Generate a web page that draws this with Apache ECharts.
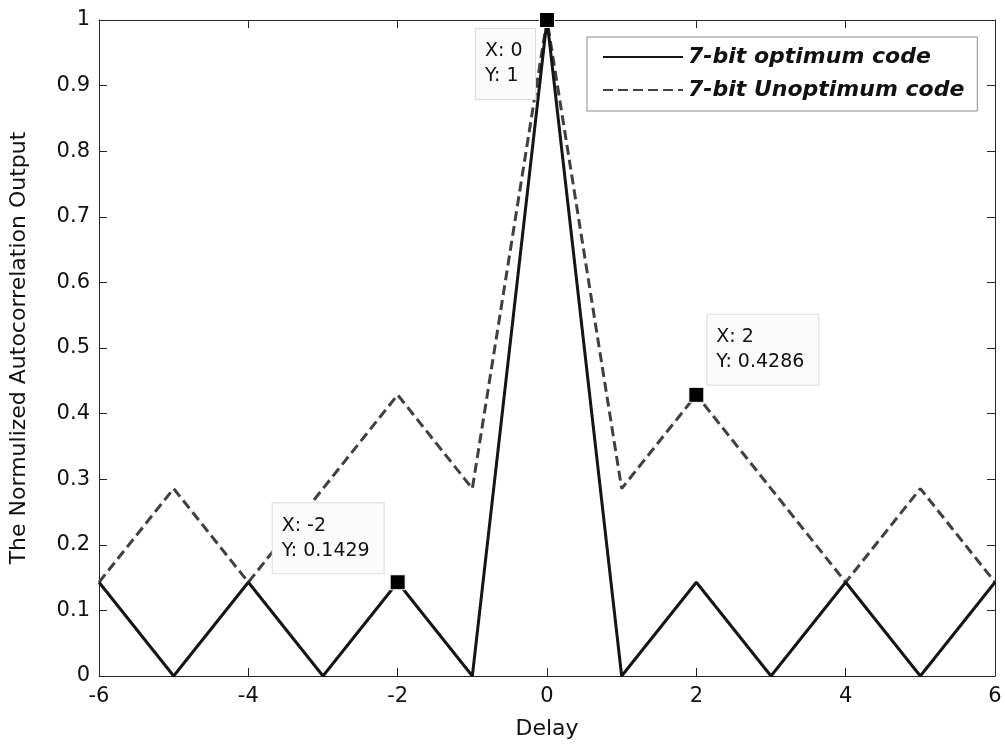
<!DOCTYPE html>
<html>
<head>
<meta charset="utf-8">
<script src="https://cdn.jsdelivr.net/npm/echarts@6/dist/echarts.min.js"></script>
<style>
  html, body { margin: 0; padding: 0; background: #fff; }
  #chart { width: 1005px; height: 745px; }
</style>
</head>
<body>
<div id="chart"></div>
<script>
'use strict';

const delays = [-6, -5, -4, -3, -2, -1, 0, 1, 2, 3, 4, 5, 6];
const optimum = [0.1429, 0, 0.1429, 0, 0.1429, 0, 1, 0, 0.1429, 0, 0.1429, 0, 0.1429];
const unoptimum = [0.1429, 0.2857, 0.1429, 0.2857, 0.4286, 0.2857, 1, 0.2857, 0.4286, 0.2857, 0.1429, 0.2857, 0.1429];
const tips = [[0, 1], [-2, 0.1429], [2, 0.4286]];
// where each data tip box sits relative to its marker (left edge, vertical centre)
const tipOffsets = [[-71, 44], [-125, -44], [11, -45]];
const tipWidths = [41, 93, 93];

const font = '"DejaVu Sans", Verdana, sans-serif';
const chart = echarts.init(document.getElementById('chart'));

const pairs = (ys) => delays.map((x, i) => [x, ys[i]]);

const axisBase = {
    type: 'value',
    axisLine: { show: true, onZero: false, lineStyle: { color: '#262626', width: 1 } },
    axisTick: { show: true, inside: true, length: 8, lineStyle: { color: '#262626' } },
    splitLine: { show: false },
};

chart.setOption({
    animation: false,
    textStyle: { fontFamily: font },
    grid: { left: 98, right: 10, top: 20, bottom: 68 },
    legend: {
        orient: 'vertical',
        left: 587,
        top: 37,
        padding: [9, 13, 10, 15],
        itemGap: 11,
        itemWidth: 80,
        itemHeight: 22,
        textGap: 10,
        borderColor: '#888',
        borderWidth: 1,
        backgroundColor: '#fff',
        itemStyle: { opacity: 0 },
        textStyle: { fontSize: 22, fontWeight: 'bold', fontStyle: 'italic', color: '#111', fontFamily: font },
        data: ['7-bit optimum code', '7-bit Unoptimum code'],
    },
    xAxis: [
        Object.assign({}, axisBase, {
            min: -6, max: 6, interval: 2,
            name: 'Delay', nameLocation: 'middle', nameGap: 42,
            nameTextStyle: { fontSize: 22, color: '#111' },
            axisLabel: { fontSize: 21, color: '#111', margin: 10 },
        }),
        Object.assign({}, axisBase, {
            position: 'top', min: -6, max: 6, interval: 2,
            axisLabel: { show: false },
        }),
    ],
    yAxis: [
        Object.assign({}, axisBase, {
            min: 0, max: 1, interval: 0.1,
            name: 'The Normulized Autocorrelation Output', nameLocation: 'middle', nameGap: 69,
            nameTextStyle: { fontSize: 22, color: '#111' },
            axisLabel: { fontSize: 21, color: '#111', margin: 9 },
        }),
        Object.assign({}, axisBase, {
            position: 'right', min: 0, max: 1, interval: 0.1,
            axisLabel: { show: false },
        }),
    ],
    series: [
        {
            name: '7-bit Unoptimum code',
            type: 'line',
            data: pairs(unoptimum),
            symbol: 'none',
            z: 2,
            lineStyle: { color: '#404040', width: 3, type: [10, 5] },
            itemStyle: { color: '#404040' },
        },
        {
            name: '7-bit optimum code',
            type: 'line',
            data: pairs(optimum),
            symbol: 'none',
            z: 3,
            lineStyle: { color: '#151515', width: 3 },
            itemStyle: { color: '#151515' },
        },
        {
            name: 'datatips',
            type: 'scatter',
            symbol: 'rect',
            symbolSize: 15,
            z: 5,
            itemStyle: { color: '#000', opacity: 1, borderColor: '#fff', borderWidth: 1 },
            emphasis: { disabled: true },
            data: tips.map((p, i) => ({
                value: p,
                label: {
                    show: true,
                    position: 'inside',
                    offset: tipOffsets[i],
                    align: 'left',
                    verticalAlign: 'middle',
                    width: tipWidths[i],
                    formatter: 'X: ' + p[0] + '\nY: ' + p[1],
                    fontSize: 19,
                    lineHeight: 25,
                    color: '#111',
                    backgroundColor: '#fbfbfb',
                    borderColor: '#dcdcdc',
                    borderWidth: 1,
                    padding: [10, 9, 10, 9],
                },
            })),
        },
    ],
});
</script>
</body>
</html>
